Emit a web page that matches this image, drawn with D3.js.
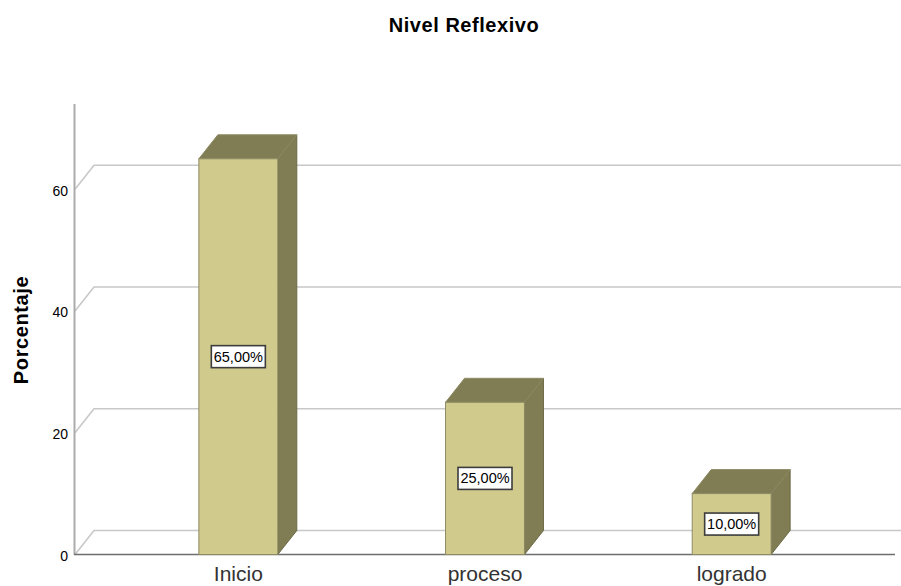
<!DOCTYPE html>
<html>
<head>
<meta charset="utf-8">
<script src="https://cdn.jsdelivr.net/npm/d3@7"></script>
<style>
html,body{margin:0;padding:0;background:#fff;}
svg{display:block;}
text{font-family:"Liberation Sans",Arial,sans-serif;fill:#000;}
</style>
</head>
<body>
<div id="chart"></div>
<script>
var categories = ["Inicio", "proceso", "logrado"];
var percentages = [65, 25, 10];
var yTicks = [0, 20, 40, 60];

var W = 901, H = 586;
var depthX = 19, depthY = 24; // 3d offset of the back wall

var svg = d3.select("#chart").append("svg").attr("width", W).attr("height", H);

var x = d3.scaleBand().domain(categories).range([115, 855]).paddingInner(0.68).paddingOuter(0.34);
var y = d3.scaleLinear().domain([0, 74]).range([554.5, 104]);

var labelFmt = function(v){ return v.toFixed(2).replace(".", ",") + "%"; };

// title
svg.append("text").attr("x", 464).attr("y", 32).attr("text-anchor", "middle")
	.style("font-size", "20px").style("font-weight", "bold").style("letter-spacing", "0.55px").text("Nivel Reflexivo");

// back wall gridlines and the diagonal going to the front
var grid = svg.append("g").attr("fill", "none").attr("stroke", "#c8c8c8").attr("stroke-width", 1.6);
grid.selectAll("path").data(yTicks).enter().append("path")
	.attr("d", function(d){
		return "M75," + y(d) + "L" + (75 + depthX) + "," + (y(d) - depthY) + "L" + W + "," + (y(d) - depthY);
	});

// axes
svg.append("line").attr("x1", 74.5).attr("x2", 74.5).attr("y1", y.range()[1]).attr("y2", y.range()[0])
	.attr("stroke", "#ababab").attr("stroke-width", 2);

var yAxis = svg.append("g").attr("transform", "translate(75,0)")
	.call(d3.axisLeft(y).tickValues(yTicks).tickSize(0).tickPadding(7).tickFormat(d3.format("d")));
yAxis.select(".domain").remove();
yAxis.selectAll("text").attr("dy", "0.42em").style("font-size", "14px").style("font-family", "'Liberation Sans',Arial,sans-serif");

svg.append("line").attr("x1", 74).attr("x2", 895).attr("y1", y(0)).attr("y2", y(0))
	.attr("stroke", "#6e6e6e").attr("stroke-width", 1.3);

var xAxis = svg.append("g").attr("transform", "translate(0," + y(0) + ")")
	.call(d3.axisBottom(x).tickSize(0).tickPadding(12));
xAxis.select(".domain").remove();
xAxis.selectAll("text").style("font-size", "21px").style("font-family", "'Liberation Sans',Arial,sans-serif").style("fill", "#333");

// y title
svg.append("text").attr("transform", "translate(28,330) rotate(-90)").attr("text-anchor", "middle")
	.style("font-size", "20px").style("font-weight", "bold").style("letter-spacing", "0.6px").text("Porcentaje");

// bars
var bars = svg.selectAll(".bar").data(categories).enter().append("g").attr("class", "bar");

bars.append("path") // side
	.attr("fill", "#807d54").attr("stroke", "#6b6945").attr("stroke-width", 1)
	.attr("d", function(d, i){
		var r = x(d) + x.bandwidth(), t = y(percentages[i]), b = y(0);
		return "M" + r + "," + t + "l" + depthX + "," + (-depthY) + "L" + (r + depthX) + "," + (b - depthY) + "L" + r + "," + b + "Z";
	});

bars.append("path") // top
	.attr("fill", "#807d54").attr("stroke", "#8d8a64").attr("stroke-width", 1)
	.attr("d", function(d, i){
		var l = x(d), r = l + x.bandwidth(), t = y(percentages[i]);
		return "M" + l + "," + t + "l" + depthX + "," + (-depthY) + "L" + (r + depthX) + "," + (t - depthY) + "L" + r + "," + t + "Z";
	});

bars.append("rect") // front
	.attr("x", function(d){ return x(d); })
	.attr("width", x.bandwidth())
	.attr("y", function(d, i){ return y(percentages[i]); })
	.attr("height", function(d, i){ return y(0) - y(percentages[i]); })
	.attr("fill", "#d0ca8d").attr("stroke", "#8d8a64").attr("stroke-width", 1);

// value labels
bars.append("rect")
	.attr("x", function(d){ return x(d) + x.bandwidth() / 2 - 27; })
	.attr("y", function(d, i){ return y(percentages[i] / 2) - 11; })
	.attr("width", 54).attr("height", 22)
	.attr("fill", "#fff").attr("stroke", "#3c3c3c").attr("stroke-width", 1.6);

bars.append("text")
	.attr("x", function(d){ return x(d) + x.bandwidth() / 2; })
	.attr("y", function(d, i){ return y(percentages[i] / 2) + 5; })
	.attr("text-anchor", "middle").style("font-size", "14.5px")
	.text(function(d, i){ return labelFmt(percentages[i]); });
</script>
</body>
</html>
